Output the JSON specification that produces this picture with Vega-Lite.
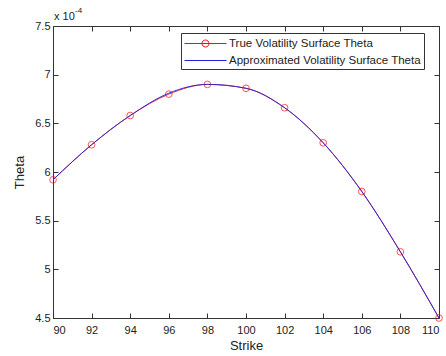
{
  "$schema": "https://vega.github.io/schema/vega-lite/v6.json",
  "width": 386,
  "height": 292,
  "autosize": "none",
  "padding": {"left": 53, "top": 26, "right": 7, "bottom": 38},
  "background": "white",
  "config": {
    "font": "Liberation Sans",
    "view": {"stroke": "#333", "strokeWidth": 1},
    "axis": {"domain": false, "grid": false, "tickColor": "#333", "tickSize": -5, "labelColor": "#222", "labelFontSize": 11, "labelFont": "Liberation Sans", "titleFont": "Liberation Sans", "titleFontWeight": "normal", "titleFontSize": 13, "titleColor": "#222"}
  },
  "data": {
    "values": [
      {"strike": 90, "theta": 0.000592, "series": "True Volatility Surface Theta"},
      {"strike": 92, "theta": 0.000628, "series": "True Volatility Surface Theta"},
      {"strike": 94, "theta": 0.000658, "series": "True Volatility Surface Theta"},
      {"strike": 96, "theta": 0.000680, "series": "True Volatility Surface Theta"},
      {"strike": 98, "theta": 0.000690, "series": "True Volatility Surface Theta"},
      {"strike": 100, "theta": 0.000686, "series": "True Volatility Surface Theta"},
      {"strike": 102, "theta": 0.000666, "series": "True Volatility Surface Theta"},
      {"strike": 104, "theta": 0.000630, "series": "True Volatility Surface Theta"},
      {"strike": 106, "theta": 0.000580, "series": "True Volatility Surface Theta"},
      {"strike": 108, "theta": 0.000518, "series": "True Volatility Surface Theta"},
      {"strike": 110, "theta": 0.000450, "series": "True Volatility Surface Theta"},
      {"strike": 90, "theta": 0.000592, "series": "Approximated Volatility Surface Theta"},
      {"strike": 92, "theta": 0.000628, "series": "Approximated Volatility Surface Theta"},
      {"strike": 94, "theta": 0.000658, "series": "Approximated Volatility Surface Theta"},
      {"strike": 96, "theta": 0.000681, "series": "Approximated Volatility Surface Theta"},
      {"strike": 98, "theta": 0.000690, "series": "Approximated Volatility Surface Theta"},
      {"strike": 100, "theta": 0.000686, "series": "Approximated Volatility Surface Theta"},
      {"strike": 102, "theta": 0.000666, "series": "Approximated Volatility Surface Theta"},
      {"strike": 104, "theta": 0.000630, "series": "Approximated Volatility Surface Theta"},
      {"strike": 106, "theta": 0.000580, "series": "Approximated Volatility Surface Theta"},
      {"strike": 108, "theta": 0.000518, "series": "Approximated Volatility Surface Theta"},
      {"strike": 110, "theta": 0.000450, "series": "Approximated Volatility Surface Theta"}
    ]
  },
  "resolve": {"axis": {"x": "independent", "y": "independent"}},
  "layer": [
    {
      "mark": {"type": "line", "strokeWidth": 0.9, "interpolate": "monotone", "clip": true},
      "encoding": {
        "x": {"field": "strike", "type": "quantitative", "scale": {"domain": [90, 110], "nice": false},
              "axis": {"title": "Strike", "values": [90, 92, 94, 96, 98, 100, 102, 104, 106, 108, 110], "labelPadding": 11, "titlePadding": 4}},
        "y": {"field": "theta", "type": "quantitative", "scale": {"domain": [0.00045, 0.00075], "nice": false, "zero": false},
              "axis": {"title": "Theta", "values": [0.00045, 0.0005, 0.00055, 0.0006, 0.00065, 0.0007, 0.00075], "labelExpr": "format(datum.value*10000, '~g')", "labelPadding": 8, "titlePadding": 8}},
        "color": {"field": "series", "type": "nominal",
                  "scale": {"domain": ["True Volatility Surface Theta", "Approximated Volatility Surface Theta"], "range": ["#f01010", "#2020e0"]},
                  "legend": {"title": null, "orient": "none", "legendX": 128, "legendY": 7, "strokeColor": "#333", "fillColor": "white", "padding": 3, "labelFontSize": 11.5, "labelColor": "#222", "labelLimit": 400, "symbolSize": 196, "symbolOpacity": 1, "symbolStrokeWidth": 1, "labelOffset": 30, "rowPadding": 4}}
      }
    },
    {
      "mark": {"type": "point", "filled": false, "opacity": 0},
      "encoding": {
        "x": {"field": "strike", "type": "quantitative", "axis": null},
        "y": {"field": "theta", "type": "quantitative", "axis": null},
        "color": {"field": "series", "type": "nominal"},
        "shape": {"field": "series", "type": "nominal",
                  "scale": {"domain": ["True Volatility Surface Theta", "Approximated Volatility Surface Theta"], "range": ["M-1,0H5M2.5,0A0.5,0.5 0 1,1 1.5,0A0.5,0.5 0 1,1 2.5,0Z", "M-1,0H5"]}}
      }
    },
    {
      "transform": [{"filter": "datum.series === 'True Volatility Surface Theta'"}],
      "mark": {"type": "point", "filled": false, "shape": "circle", "size": 45, "strokeWidth": 1, "color": "#f01010", "clip": false},
      "encoding": {
        "x": {"field": "strike", "type": "quantitative", "axis": {"orient": "top", "labels": false, "title": null, "values": [90, 92, 94, 96, 98, 100, 102, 104, 106, 108, 110]}},
        "y": {"field": "theta", "type": "quantitative", "axis": {"orient": "right", "labels": false, "title": null, "values": [0.00045, 0.0005, 0.00055, 0.0006, 0.00065, 0.0007, 0.00075]}}
      }
    },
    {
      "data": {"values": [{"strike": 90, "theta": 0.00075, "txt": "x 10"}]},
      "mark": {"type": "text", "align": "left", "baseline": "alphabetic", "dx": 1, "dy": -6, "fontSize": 11, "color": "#222"},
      "encoding": {
        "x": {"field": "strike", "type": "quantitative", "axis": null},
        "y": {"field": "theta", "type": "quantitative", "axis": null},
        "text": {"field": "txt"}
      }
    },
    {
      "data": {"values": [{"strike": 90, "theta": 0.00075, "txt": "-4"}]},
      "mark": {"type": "text", "align": "left", "baseline": "alphabetic", "dx": 22, "dy": -13, "fontSize": 8, "color": "#222"},
      "encoding": {
        "x": {"field": "strike", "type": "quantitative", "axis": null},
        "y": {"field": "theta", "type": "quantitative", "axis": null},
        "text": {"field": "txt"}
      }
    }
  ]
}
